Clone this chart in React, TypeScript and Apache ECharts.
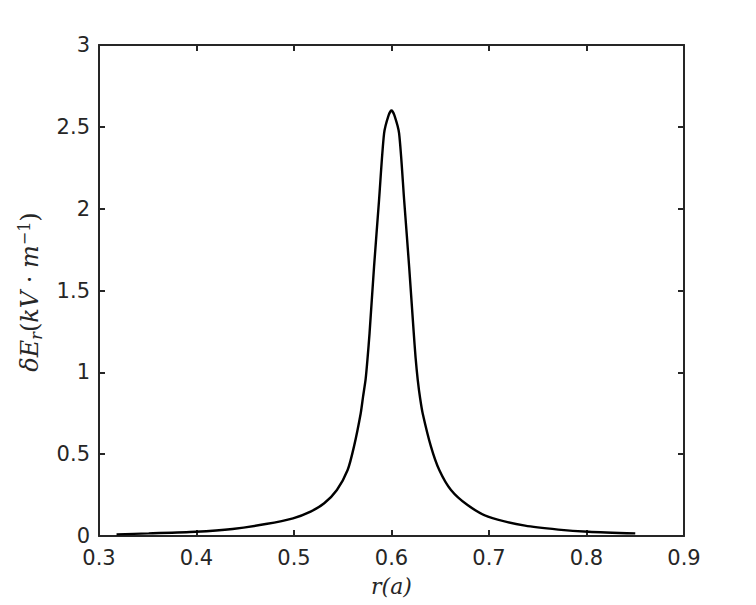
import React, { useEffect, useRef } from "react";
import * as echarts from "echarts";

const rValues = [
  0.318, 0.351, 0.399, 0.437, 0.471, 0.499, 0.517, 0.531, 0.544, 0.555, 0.5615, 0.5684, 0.5708,
  0.5735, 0.5755, 0.5775, 0.5821, 0.5872, 0.5924, 0.597, 0.600, 0.603, 0.6078, 0.613, 0.6181,
  0.6227, 0.6247, 0.627, 0.6294, 0.632, 0.6405, 0.649, 0.661, 0.678, 0.699, 0.737, 0.771, 0.802,
  0.850,
];
const deltaE = [
  0.010, 0.016, 0.026, 0.043, 0.073, 0.108, 0.149, 0.200, 0.281, 0.403, 0.546, 0.749, 0.85,
  0.96, 1.09, 1.24, 1.645, 2.05, 2.46, 2.57, 2.60, 2.57, 2.46, 2.05, 1.645,
  1.25, 1.09, 0.95, 0.84, 0.749, 0.546, 0.403, 0.281, 0.189, 0.118, 0.063, 0.039, 0.026,
  0.016,
];
const xTicks = [0.3, 0.9, 0.1];
const yTicks = [0, 3, 0.5];

export default function App() {
  const ref = useRef<HTMLDivElement>(null);
  useEffect(() => {
    if (!ref.current) return;
    const chart = echarts.init(ref.current, null, { renderer: "svg" });
    const axisColor = "#262626";
    const tickFont = { fontFamily: "DejaVu Sans", fontSize: 21, color: axisColor };
    const common = {
      axisLine: { show: true, onZero: false, lineStyle: { color: axisColor, width: 2 } },
      axisTick: { show: true, inside: true, length: 6, lineStyle: { color: axisColor, width: 2 } },
      splitLine: { show: false },
    };
    chart.setOption({
      animation: false,
      backgroundColor: "#ffffff",
      grid: { left: 99, right: 72, top: 45, bottom: 69, containLabel: false },
      xAxis: [
        {
          type: "value", min: xTicks[0], max: xTicks[1], interval: xTicks[2], position: "bottom",
          ...common,
          axisLabel: { ...tickFont, margin: 11, formatter: (v: number) => v.toFixed(1) },
          name: "r(a)",
          nameLocation: "middle",
          nameGap: 39,
          nameTextStyle: { fontFamily: "DejaVu Serif", fontStyle: "italic", fontSize: 22, color: "#262626" },
        },
        {
          type: "value", min: xTicks[0], max: xTicks[1], interval: xTicks[2], position: "top",
          ...common, axisLabel: { show: false },
        },
      ],
      yAxis: [
        {
          type: "value", min: yTicks[0], max: yTicks[1], interval: yTicks[2], position: "left",
          ...common,
          axisLabel: { ...tickFont, margin: 9, formatter: (v: number) => String(v) },
        },
        {
          type: "value", min: yTicks[0], max: yTicks[1], interval: yTicks[2], position: "right",
          ...common, axisLabel: { show: false },
        },
      ],
      graphic: [
        {
          type: "text",
          x: 30,
          y: 292,
          rotation: Math.PI / 2,
          style: {
            text: "{i|δE}{sub|r}{n|(}{i|kV}{n| · }{i|m}{sup|−1}{n|)}",
            align: "center",
            verticalAlign: "middle",
            fill: "#262626",
            rich: {
              i: { fontFamily: "DejaVu Serif", fontStyle: "italic", fontSize: 24, fill: "#262626" },
              n: { fontFamily: "DejaVu Serif", fontSize: 24, fill: "#262626" },
              sub: { fontFamily: "DejaVu Serif", fontStyle: "italic", fontSize: 16, fill: "#262626", padding: [12, 0, 0, 0] },
              sup: { fontFamily: "DejaVu Serif", fontSize: 16, fill: "#262626", padding: [0, 0, 12, 0] },
            },
          },
        },
      ],
      series: [
        {
          type: "line",
          xAxisIndex: 0,
          yAxisIndex: 0,
          data: rValues.map((r, i) => [r, deltaE[i]]),
          smooth: 0.25,
          showSymbol: false,
          lineStyle: { color: "#000000", width: 2.4 },
        },
      ],
    });
    return () => chart.dispose();
  }, []);
  return (
    <div
      ref={ref}
      style={{ position: "fixed", left: 0, top: 0, width: 756, height: 605 }}
    />
  );
}
